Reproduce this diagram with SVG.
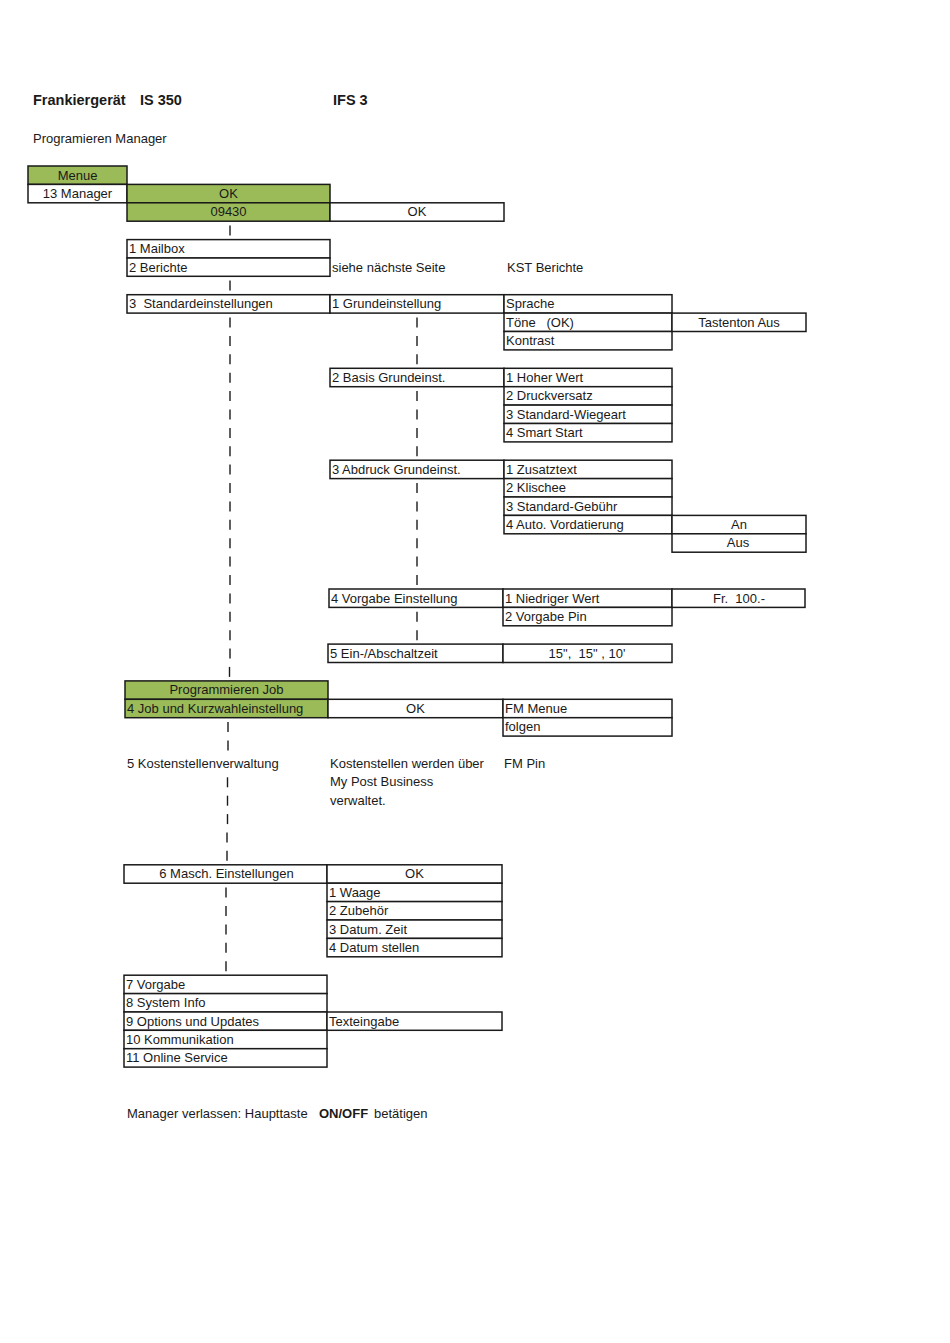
<svg xmlns="http://www.w3.org/2000/svg" width="950" height="1343" viewBox="0 0 950 1343">
<style>
.c{fill:#ffffff;stroke:#1a1a1a;stroke-width:1.5}
.g{fill:#9bbb59;stroke:#1a1a1a;stroke-width:1.5}
text{font-family:"Liberation Sans",Arial,sans-serif;font-size:13px;fill:#1a1a1a}
.m{text-anchor:middle}
.b{font-weight:bold}
.h{font-size:14.5px;font-weight:bold}
.ln line{stroke:#1a1a1a;stroke-width:1.4}
</style>
<rect x="0" y="0" width="950" height="1343" fill="#ffffff"/>
<g id="title">
<text class="h" x="33" y="105">Frankiergerät<tspan x="140">IS 350</tspan></text>
<text class="h" x="333" y="105">IFS 3</text>
<text x="33" y="143">Programieren Manager</text>
</g>
<g id="n-menue"><rect class="g" x="28" y="166" width="99" height="18.4"/><text class="m" x="77.5" y="179.5">Menue</text></g>
<g id="n-manager"><rect class="c" x="28" y="184.4" width="99" height="18.4"/><text class="m" x="77.5" y="197.9">13 Manager</text></g>
<g id="n-ok1"><rect class="g" x="127" y="184.4" width="203" height="18.4"/><text class="m" x="228.5" y="197.9">OK</text></g>
<g id="n-pin"><rect class="g" x="127" y="202.8" width="203" height="18.4"/><text class="m" x="228.5" y="216.3">09430</text></g>
<g id="n-ok2"><rect class="c" x="330" y="202.8" width="174" height="18.4"/><text class="m" x="417" y="216.3">OK</text></g>
<g id="n-mailbox"><rect class="c" x="127" y="239.6" width="203" height="18.4"/><text x="129" y="253.1">1 Mailbox</text></g>
<g id="n-berichte"><rect class="c" x="127" y="258" width="203" height="18.3"/><text x="129" y="271.5">2 Berichte</text></g>
<g id="t-siehe"><text x="332" y="271.5">siehe nächste Seite</text></g>
<g id="t-kst"><text x="507" y="271.5">KST Berichte</text></g>
<g id="n-standard"><rect class="c" x="127" y="294.7" width="203" height="18.4"/><text x="129" y="308.2" xml:space="preserve">3  Standardeinstellungen</text></g>
<g id="n-grund"><rect class="c" x="330" y="294.7" width="174" height="18.4"/><text x="332" y="308.2">1 Grundeinstellung</text></g>
<g id="n-sprache"><rect class="c" x="504" y="294.7" width="168" height="18.4"/><text x="506" y="308.2">Sprache</text></g>
<g id="n-toene"><rect class="c" x="504" y="313.1" width="168" height="18.4"/><text x="506" y="326.6" xml:space="preserve">Töne   (OK)</text></g>
<g id="n-kontrast"><rect class="c" x="504" y="331.5" width="168" height="18.4"/><text x="506" y="345">Kontrast</text></g>
<g id="n-tastenton"><rect class="c" x="672" y="313.1" width="134" height="18.4"/><text class="m" x="739" y="326.6">Tastenton Aus</text></g>
<g id="n-basis"><rect class="c" x="330" y="368.3" width="174" height="18.4"/><text x="332" y="381.8">2 Basis Grundeinst.</text></g>
<g id="n-hoher"><rect class="c" x="504" y="368.3" width="168" height="18.4"/><text x="506" y="381.8">1 Hoher Wert</text></g>
<g id="n-druck"><rect class="c" x="504" y="386.7" width="168" height="18.4"/><text x="506" y="400.2">2 Druckversatz</text></g>
<g id="n-wiege"><rect class="c" x="504" y="405.1" width="168" height="18.4"/><text x="506" y="418.6">3 Standard-Wiegeart</text></g>
<g id="n-smart"><rect class="c" x="504" y="423.5" width="168" height="18.4"/><text x="506" y="437">4 Smart Start</text></g>
<g id="n-abdruck"><rect class="c" x="330" y="460.2" width="174" height="18.4"/><text x="332" y="473.7">3 Abdruck Grundeinst.</text></g>
<g id="n-zusatz"><rect class="c" x="504" y="460.2" width="168" height="18.4"/><text x="506" y="473.7">1 Zusatztext</text></g>
<g id="n-klischee"><rect class="c" x="504" y="478.6" width="168" height="18.4"/><text x="506" y="492.1">2 Klischee</text></g>
<g id="n-gebuehr"><rect class="c" x="504" y="497" width="168" height="18.4"/><text x="506" y="510.5">3 Standard-Gebühr</text></g>
<g id="n-vordat"><rect class="c" x="504" y="515.4" width="168" height="18.4"/><text x="506" y="528.9">4 Auto. Vordatierung</text></g>
<g id="n-an"><rect class="c" x="672" y="515.4" width="134" height="18.4"/><text class="m" x="739" y="528.9">An</text></g>
<g id="n-aus"><rect class="c" x="672" y="533.8" width="134" height="18.4"/><text class="m" x="738" y="547.3">Aus</text></g>
<g id="n-vorgabe"><rect class="c" x="329" y="589" width="174" height="18.4"/><text x="331" y="602.5">4 Vorgabe Einstellung</text></g>
<g id="n-niedrig"><rect class="c" x="503" y="589" width="169" height="18.4"/><text x="505" y="602.5">1 Niedriger Wert</text></g>
<g id="n-fr"><rect class="c" x="672" y="589" width="133" height="18.4"/><text class="m" x="739" y="602.5" xml:space="preserve">Fr.  100.-</text></g>
<g id="n-vpin"><rect class="c" x="503" y="607.4" width="169" height="18.4"/><text x="505" y="620.9">2 Vorgabe Pin</text></g>
<g id="n-einaus"><rect class="c" x="328" y="644.1" width="175" height="18.4"/><text x="330" y="657.6">5 Ein-/Abschaltzeit</text></g>
<g id="n-zeit"><rect class="c" x="503" y="644.1" width="169" height="18.4"/><text class="m" x="587" y="657.6" xml:space="preserve">15",  15" , 10'</text></g>
<g id="n-progjob"><rect class="g" x="125" y="680.9" width="203" height="18.4"/><text class="m" x="226.5" y="694.4">Programmieren Job</text></g>
<g id="n-job"><rect class="g" x="125" y="699.3" width="203" height="18.4"/><text x="127" y="712.8">4 Job und Kurzwahleinstellung</text></g>
<g id="n-ok3"><rect class="c" x="328" y="699.3" width="175" height="18.4"/><text class="m" x="415.5" y="712.8">OK</text></g>
<g id="n-fmmenue"><rect class="c" x="503" y="699.3" width="169" height="18.4"/><text x="505" y="712.8">FM Menue</text></g>
<g id="n-folgen"><rect class="c" x="503" y="717.7" width="169" height="18.4"/><text x="505" y="731.2">folgen</text></g>
<g id="t-kosten"><text x="127" y="768">5 Kostenstellenverwaltung</text></g>
<g id="t-mypost"><text x="330" y="768">Kostenstellen werden über</text><text x="330" y="786.4">My Post Business</text><text x="330" y="804.8">verwaltet.</text></g>
<g id="t-fmpin"><text x="504" y="768">FM Pin</text></g>
<g id="n-masch"><rect class="c" x="124" y="864.8" width="203" height="18.4"/><text class="m" x="226.5" y="878.3">6 Masch. Einstellungen</text></g>
<g id="n-ok4"><rect class="c" x="327" y="864.8" width="175" height="18.4"/><text class="m" x="414.5" y="878.3">OK</text></g>
<g id="n-waage"><rect class="c" x="327" y="883.2" width="175" height="18.4"/><text x="329" y="896.7">1 Waage</text></g>
<g id="n-zubehoer"><rect class="c" x="327" y="901.6" width="175" height="18.4"/><text x="329" y="915.1">2 Zubehör</text></g>
<g id="n-datumzeit"><rect class="c" x="327" y="920" width="175" height="18.4"/><text x="329" y="933.5">3 Datum. Zeit</text></g>
<g id="n-datumstellen"><rect class="c" x="327" y="938.4" width="175" height="18.4"/><text x="329" y="951.9">4 Datum stellen</text></g>
<g id="n-v7"><rect class="c" x="124" y="975.2" width="203" height="18.4"/><text x="126" y="988.7">7 Vorgabe</text></g>
<g id="n-v8"><rect class="c" x="124" y="993.6" width="203" height="18.4"/><text x="126" y="1007.1">8 System Info</text></g>
<g id="n-v9"><rect class="c" x="124" y="1012" width="203" height="18.3"/><text x="126" y="1025.5">9 Options und Updates</text></g>
<g id="n-text"><rect class="c" x="327" y="1012" width="175" height="18.3"/><text x="329" y="1025.5">Texteingabe</text></g>
<g id="n-v10"><rect class="c" x="124" y="1030.3" width="203" height="18.4"/><text x="126" y="1043.8">10 Kommunikation</text></g>
<g id="n-v11"><rect class="c" x="124" y="1048.7" width="203" height="18.4"/><text x="126" y="1062.2">11 Online Service</text></g>
<g id="footer"><text x="127" y="1118">Manager verlassen: Haupttaste<tspan class="b" x="319">ON/OFF</tspan><tspan x="374">betätigen</tspan></text></g>
<g id="connectors" class="ln">
<line x1="230" y1="225.5" x2="230" y2="235.5"/>
<line x1="230" y1="280.5" x2="230" y2="290.5"/>
<line x1="230" y1="317.5" x2="230" y2="327.5"/>
<line x1="230" y1="335.9" x2="230" y2="345.9"/>
<line x1="230" y1="354.3" x2="230" y2="364.3"/>
<line x1="230" y1="372.7" x2="230" y2="382.7"/>
<line x1="230" y1="391.1" x2="230" y2="401.1"/>
<line x1="230" y1="409.5" x2="230" y2="419.5"/>
<line x1="230" y1="427.9" x2="230" y2="437.9"/>
<line x1="230" y1="446.3" x2="230" y2="456.3"/>
<line x1="230" y1="464.6" x2="230" y2="474.6"/>
<line x1="230" y1="483" x2="230" y2="493"/>
<line x1="230" y1="501.4" x2="230" y2="511.4"/>
<line x1="230" y1="519.8" x2="230" y2="529.8"/>
<line x1="230" y1="538.2" x2="230" y2="548.2"/>
<line x1="230" y1="556.6" x2="230" y2="566.6"/>
<line x1="230" y1="575" x2="230" y2="585"/>
<line x1="230" y1="593.4" x2="230" y2="603.4"/>
<line x1="230" y1="611.8" x2="230" y2="621.8"/>
<line x1="230" y1="630.2" x2="230" y2="640.2"/>
<line x1="230" y1="648.5" x2="230" y2="658.5"/>
<line x1="229.5" y1="666.9" x2="229.5" y2="676.9"/>
<line x1="228" y1="722.1" x2="228" y2="732.1"/>
<line x1="228" y1="740.5" x2="228" y2="750.5"/>
<line x1="227.5" y1="777.3" x2="227.5" y2="787.3"/>
<line x1="227.5" y1="795.7" x2="227.5" y2="805.7"/>
<line x1="227.5" y1="814.1" x2="227.5" y2="824.1"/>
<line x1="227" y1="832.4" x2="227" y2="842.4"/>
<line x1="227" y1="850.8" x2="227" y2="860.8"/>
<line x1="226" y1="887.6" x2="226" y2="897.6"/>
<line x1="226" y1="906" x2="226" y2="916"/>
<line x1="226" y1="924.4" x2="226" y2="934.4"/>
<line x1="226" y1="942.8" x2="226" y2="952.8"/>
<line x1="226" y1="961.2" x2="226" y2="971.2"/>
<line x1="417" y1="317.5" x2="417" y2="327.5"/>
<line x1="417" y1="335.9" x2="417" y2="345.9"/>
<line x1="417" y1="354.3" x2="417" y2="364.3"/>
<line x1="417" y1="391.1" x2="417" y2="401.1"/>
<line x1="417" y1="409.5" x2="417" y2="419.5"/>
<line x1="417" y1="427.9" x2="417" y2="437.9"/>
<line x1="417" y1="446.3" x2="417" y2="456.3"/>
<line x1="417" y1="483" x2="417" y2="493"/>
<line x1="417" y1="501.4" x2="417" y2="511.4"/>
<line x1="417" y1="519.8" x2="417" y2="529.8"/>
<line x1="417" y1="538.2" x2="417" y2="548.2"/>
<line x1="417" y1="556.6" x2="417" y2="566.6"/>
<line x1="417" y1="575" x2="417" y2="585"/>
<line x1="417" y1="611.8" x2="417" y2="621.8"/>
<line x1="417" y1="630.2" x2="417" y2="640.2"/>
</g>
</svg>
